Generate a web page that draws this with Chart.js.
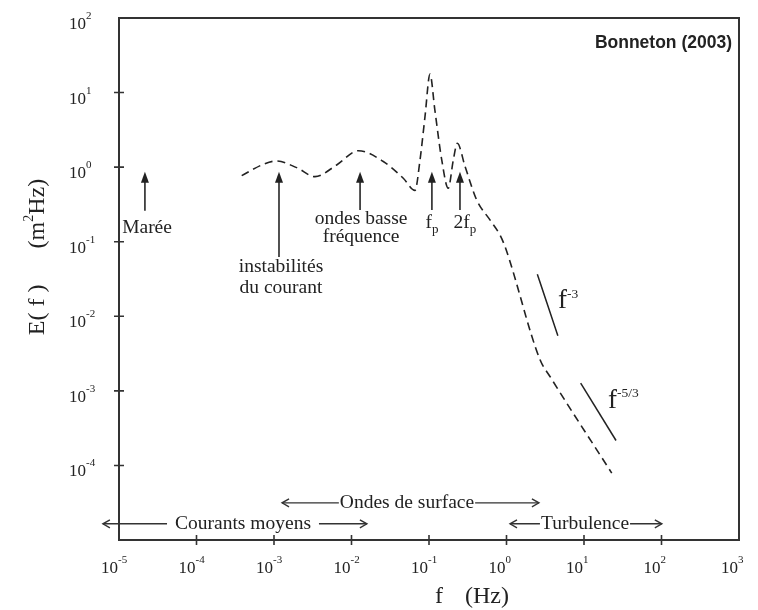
<!DOCTYPE html>
<html>
<head>
<meta charset="utf-8">
<script src="https://cdn.jsdelivr.net/npm/chart.js@4/dist/chart.umd.min.js"></script>
<style>
body { margin: 0; background: #fff; }
#wrap { width: 758px; height: 610px; }
</style>
</head>
<body>
<div id="wrap"><canvas id="chart"></canvas></div>
<script>
// Spectre E(f) (f en Hz, E en m2/Hz)
const freq = [3.83e-4, 7.28e-4, 1.08e-3, 1.96e-3, 3.38e-3, 6.44e-3, 0.01225, 0.0257, 0.0466, 0.0659,
  0.0766, 0.0887, 0.103, 0.119, 0.146, 0.177, 0.206, 0.232, 0.292, 0.412, 0.612, 0.824, 0.957,
  2.71, 3.64, 22.8];
const energy = [0.769, 1.09, 1.21, 0.985, 0.746, 1.07, 1.66, 1.19, 0.71, 0.487,
  1.25, 4.71, 17.7, 5.84, 1.25, 0.521, 1.25, 2.09, 1.02, 0.363, 0.196, 0.123, 0.0859,
  2.61e-3, 1.56e-3, 7.89e-5];

// pentes de reference
const pente3F = [2.5, 4.6];
const pente3E = [0.0367, 0.0055];
const pente53F = [9.06, 25.9];
const pente53E = [1.27e-3, 2.16e-4];

// graduations
const xTicks = [1e-5, 1e-4, 1e-3, 1e-2, 1e-1, 1, 10, 100, 1000];
const xTickExp = ['-5', '-4', '-3', '-2', '-1', '0', '1', '2', '3'];
const yTicks = [1e-4, 1e-3, 1e-2, 1e-1, 1, 10, 100];
const yTickExp = ['-4', '-3', '-2', '-1', '0', '1', '2'];

// fleches verticales (pointe en haut)
const flecheF = [2.16e-5, 1.16e-3, 0.0129, 0.109, 0.251];
const flecheHaut = [0.87, 0.87, 0.87, 0.87, 0.87];
const flecheBas = [0.26, 0.0625, 0.267, 0.267, 0.267];

// domaines (fleches horizontales)
const domaines = ['Courants moyens', 'Ondes de surface', 'Turbulence'];
const domaineDe = [6.2e-6, 1.27e-3, 1.11];
const domaineA = [0.0158, 2.62, 101];
const domaineTexteF = [3.98e-4, 0.052, 10.3];
const domaineNiveau = [1.65e-5, 3.15e-5, 1.65e-5];
const domaineEcart = [8, 1, 1];

const serif = '"Liberation Serif", "Times New Roman", serif';
const encre = '#222';

// texte avec exposants / indices : [texte, taille, decalage vertical]
function rich(ctx, parts, x, y, align) {
  let w = 0;
  parts.forEach(p => { ctx.font = p[1] + 'px ' + serif; p.w = ctx.measureText(p[0]).width; w += p.w; });
  let cx = align === 'center' ? x - w / 2 : (align === 'right' ? x - w : x);
  ctx.textAlign = 'left';
  ctx.textBaseline = 'alphabetic';
  parts.forEach(p => {
    ctx.font = p[1] + 'px ' + serif;
    ctx.fillText(p[0], cx, y + (p[2] || 0));
    cx += p.w;
  });
}

function chevron(ctx, x, y, dir) {
  ctx.beginPath();
  ctx.moveTo(x - dir * 7, y - 4);
  ctx.lineTo(x, y);
  ctx.lineTo(x - dir * 7, y + 4);
  ctx.stroke();
}

const decor = {
  id: 'decor',
  afterDraw(chart) {
    const ctx = chart.ctx;
    const a = chart.chartArea;
    const sx = chart.scales.x, sy = chart.scales.y;
    ctx.save();
    ctx.strokeStyle = '#333';
    ctx.fillStyle = encre;

    // cadre
    ctx.lineWidth = 2;
    ctx.strokeRect(a.left, a.top, a.right - a.left, a.bottom - a.top);

    // traits de graduation
    ctx.lineWidth = 1.6;
    ctx.beginPath();
    xTicks.slice(1, -1).forEach(v => {
      const x = sx.getPixelForValue(v);
      ctx.moveTo(x, a.bottom - 5); ctx.lineTo(x, a.bottom + 5);
    });
    yTicks.slice(0, -1).forEach(v => {
      const y = sy.getPixelForValue(v);
      ctx.moveTo(a.left - 5, y); ctx.lineTo(a.left + 5, y);
    });
    ctx.stroke();

    // etiquettes des graduations
    ctx.font = '17px ' + serif;
    const w10 = ctx.measureText('10').width;
    xTicks.forEach((v, i) => {
      const x = sx.getPixelForValue(v);
      rich(ctx, [['10', 17], [xTickExp[i], 11, -10]], x - w10 - 1, a.bottom + 33, 'left');
    });
    yTicks.forEach((v, i) => {
      const y = sy.getPixelForValue(v);
      rich(ctx, [['10', 17], [yTickExp[i], 11, -10]], 86 - w10, y + 11, 'left');
    });

    // titres des axes
    rich(ctx, [['f', 24]], a.left + (a.right - a.left) / 2 + 6, a.bottom + 63, 'left');
    rich(ctx, [['(Hz)', 24]], a.left + (a.right - a.left) / 2 + 36, a.bottom + 63, 'left');
    ctx.save();
    ctx.translate(44, (a.top + a.bottom) / 2 - 22);
    ctx.rotate(-Math.PI / 2);
    rich(ctx, [['E( f )      (m', 24], ['2', 14, -11], ['Hz)', 24]], 0, 0, 'center');
    ctx.restore();

    // source
    ctx.font = 'bold 17.5px "Liberation Sans", Arial, sans-serif';
    ctx.textAlign = 'right';
    ctx.textBaseline = 'alphabetic';
    ctx.fillText('Bonneton (2003)', a.right - 7, a.top + 30);

    // fleches verticales
    ctx.lineWidth = 1.7;
    flecheF.forEach((f, i) => {
      const x = sx.getPixelForValue(f);
      const yt = sy.getPixelForValue(flecheHaut[i]);
      const yb = sy.getPixelForValue(flecheBas[i]);
      ctx.beginPath();
      ctx.moveTo(x, yb); ctx.lineTo(x, yt + 8);
      ctx.stroke();
      ctx.beginPath();
      ctx.moveTo(x, yt); ctx.lineTo(x - 4, yt + 11); ctx.lineTo(x + 4, yt + 11);
      ctx.closePath();
      ctx.fill();
    });

    // textes des phenomenes
    const at = (f, e) => [sx.getPixelForValue(f), sy.getPixelForValue(e)];
    let p;
    p = at(2.3e-5, 0.131); rich(ctx, [['Marée', 19.5]], p[0], p[1], 'center');
    p = at(1.23e-3, 0.0394); rich(ctx, [['instabilités', 19.5]], p[0], p[1], 'center');
    p = at(1.23e-3, 0.0206); rich(ctx, [['du courant', 19.5]], p[0], p[1], 'center');
    p = at(0.0133, 0.173); rich(ctx, [['ondes basse', 19.5]], p[0], p[1], 'center');
    p = at(0.0133, 0.1005); rich(ctx, [['fréquence', 19.5]], p[0], p[1], 'center');
    p = at(0.109, 0.153); rich(ctx, [['f', 19.5], ['p', 13, 5]], p[0], p[1], 'center');
    p = at(0.29, 0.153); rich(ctx, [['2f', 19.5], ['p', 13, 5]], p[0], p[1], 'center');
    p = at(4.62, 0.0131); rich(ctx, [['f', 27], ['-3', 13.5, -10]], p[0], p[1], 'left');
    p = at(20.4, 5.86e-4); rich(ctx, [['f', 27], ['-5/3', 13.5, -11]], p[0], p[1], 'left');

    // domaines
    ctx.lineWidth = 1.4;
    domaines.forEach((t, i) => {
      const y = sy.getPixelForValue(domaineNiveau[i]);
      const x0 = sx.getPixelForValue(domaineDe[i]);
      const x1 = sx.getPixelForValue(domaineA[i]);
      const xc = sx.getPixelForValue(domaineTexteF[i]);
      ctx.font = '19.5px ' + serif;
      const tw = ctx.measureText(t).width;
      ctx.textAlign = 'center';
      ctx.textBaseline = 'middle';
      ctx.fillText(t, xc, y);
      ctx.beginPath();
      ctx.moveTo(x0, y); ctx.lineTo(xc - tw / 2 - domaineEcart[i], y);
      ctx.moveTo(xc + tw / 2 + domaineEcart[i], y); ctx.lineTo(x1, y);
      ctx.stroke();
      chevron(ctx, x0, y, -1);
      chevron(ctx, x1, y, 1);
    });

    ctx.restore();
  }
};

const pts = (fs, es) => fs.map((f, i) => ({ x: f, y: es[i] }));

new Chart(document.getElementById('chart'), {
  type: 'scatter',
  data: {
    datasets: [
      { data: pts(freq, energy), showLine: true, borderColor: encre, borderWidth: 1.6,
        borderDash: [8, 5], pointRadius: 0, cubicInterpolationMode: 'monotone' },
      { data: pts(pente3F, pente3E), showLine: true, borderColor: encre, borderWidth: 1.5, pointRadius: 0 },
      { data: pts(pente53F, pente53E), showLine: true, borderColor: encre, borderWidth: 1.5, pointRadius: 0 }
    ]
  },
  options: {
    responsive: true,
    maintainAspectRatio: false,
    animation: false,
    layout: { padding: { left: 119, right: 19, top: 18, bottom: 70 } },
    plugins: { legend: { display: false }, tooltip: { enabled: false } },
    scales: {
      x: { type: 'logarithmic', min: 1e-5, max: 1e3,
        grid: { display: false }, border: { display: false }, ticks: { display: false },
        afterFit: s => { s.height = 0; } },
      y: { type: 'logarithmic', min: 1e-5, max: 1e2,
        grid: { display: false }, border: { display: false }, ticks: { display: false },
        afterFit: s => { s.width = 0; } }
    }
  },
  plugins: [decor]
});
</script>
</body>
</html>
